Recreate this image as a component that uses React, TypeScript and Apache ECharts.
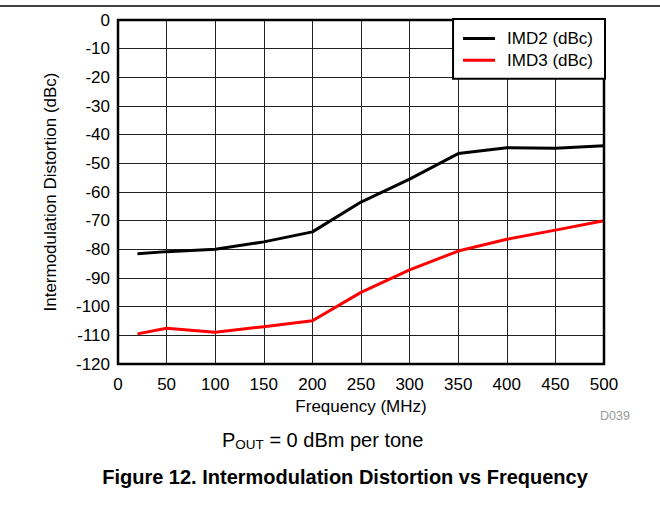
import React, { useEffect, useRef } from "react";
import * as echarts from "echarts";

const freqs = [20, 50, 100, 150, 200, 250, 300, 350, 400, 450, 500];
const imd2 = [-81.5, -80.8, -80, -77.4, -73.9, -63.5, -55.5, -46.6, -44.6, -44.7, -43.9];
const imd3 = [-109.5, -107.5, -108.9, -107, -104.9, -95, -87.2, -80.6, -76.5, -73.3, -70];
const seriesNames = ["IMD2 (dBc)", "IMD3 (dBc)"];
const xName = "Frequency (MHz)";
const yName = "Intermodulation Distortion (dBc)";
const FONT = "Arial, 'Liberation Sans', Helvetica, sans-serif";

export default function App() {
  const ref = useRef<HTMLDivElement>(null);
  useEffect(() => {
    if (!ref.current) return;
    const chart = echarts.init(ref.current, null, { renderer: "svg" });
    const toPairs = (ys: number[]) => freqs.map((x, i) => [x, ys[i]]);
    chart.setOption({
      animation: false,
      backgroundColor: "#fff",
      textStyle: { fontFamily: FONT },
      grid: {
        left: 118,
        right: 56,
        top: 20,
        bottom: 165,
        show: true,
        borderColor: "#000",
        borderWidth: 2.5,
        backgroundColor: "transparent",
        z: 3,
      },
      xAxis: {
        type: "value",
        min: 0,
        max: 500,
        interval: 50,
        name: xName,
        nameLocation: "middle",
        nameGap: 32,
        nameTextStyle: { fontSize: 17, color: "#000", fontFamily: FONT },
        axisLine: { show: false },
        axisTick: { show: false },
        axisLabel: { fontSize: 17, color: "#000", margin: 12, fontFamily: FONT },
        splitLine: { show: true, lineStyle: { color: "#222", width: 1 } },
      },
      yAxis: {
        type: "value",
        min: -120,
        max: 0,
        interval: 10,
        name: yName,
        nameLocation: "middle",
        nameGap: 59,
        nameRotate: 90,
        nameTextStyle: { fontSize: 17, color: "#000", fontFamily: FONT },
        axisLine: { show: false },
        axisTick: { show: false },
        axisLabel: { fontSize: 17, color: "#000", margin: 8, fontFamily: FONT },
        splitLine: { show: true, lineStyle: { color: "#222", width: 1 } },
      },
      legend: {
        orient: "vertical",
        right: 55,
        top: 19,
        backgroundColor: "#fff",
        borderColor: "#000",
        borderWidth: 2,
        borderRadius: 0,
        padding: [11, 12, 10, 10],
        itemWidth: 32,
        itemHeight: 3,
        itemGap: 4.7,
        icon: "rect",
        textStyle: { fontSize: 17, color: "#000", fontFamily: FONT, lineHeight: 17, padding: [0, 0, 0, 7] },
        data: seriesNames,
        z: 5,
      },
      series: [
        {
          name: seriesNames[0],
          type: "line",
          data: toPairs(imd2),
          symbol: "none",
          lineStyle: { color: "#000", width: 3 },
          itemStyle: { color: "#000" },
          z: 2,
        },
        {
          name: seriesNames[1],
          type: "line",
          data: toPairs(imd3),
          symbol: "none",
          lineStyle: { color: "#ff0000", width: 3 },
          itemStyle: { color: "#ff0000" },
          z: 2,
        },
      ],
      graphic: [
        {
          type: "line",
          shape: { x1: 0, y1: 6, x2: 660, y2: 6 },
          style: { stroke: "#000", lineWidth: 1.5 },
        },
        {
          type: "text",
          x: 600,
          y: 416,
          style: {
            text: "D039",
            fontSize: 12.5,
            fill: "#999",
            fontFamily: FONT,
            verticalAlign: "middle",
          },
        },
        {
          type: "text",
          x: 222,
          y: 440,
          style: {
            text: "{p|P}{s|OUT}{p| = 0 dBm per tone}",
            fontFamily: FONT,
            verticalAlign: "middle",
            rich: {
              p: { fontSize: 20, fill: "#000", fontFamily: FONT },
              s: { fontSize: 13.5, fill: "#000", fontFamily: FONT, padding: [9, 0, 0, 0] },
            },
          },
        },
        {
          type: "text",
          x: 345,
          y: 477,
          style: {
            text: "Figure 12. Intermodulation Distortion vs Frequency",
            fontSize: 20,
            fontWeight: "bold",
            fill: "#000",
            fontFamily: FONT,
            align: "center",
            verticalAlign: "middle",
          },
        },
      ],
    });
    return () => chart.dispose();
  }, []);
  return (
    <div
      ref={ref}
      style={{ position: "fixed", left: 0, top: 0, width: 660, height: 529 }}
    />
  );
}
